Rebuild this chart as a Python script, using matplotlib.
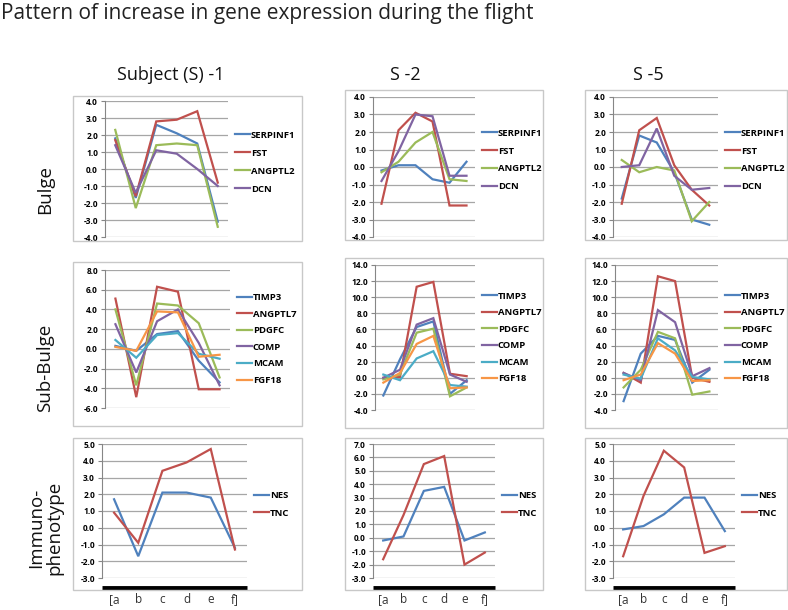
import numpy as np
import matplotlib.pyplot as plt
from matplotlib.patches import Rectangle

plt.rcParams['font.family'] = ['Open Sans', 'DejaVu Sans']

W, H = 788, 610

title = "Pattern of increase in gene expression during the flight"
subjects = ["Subject (S) -1", "S -2", "S -5"]
rows = ["Bulge", "Sub-Bulge", "Immuno-\nphenotype"]
x_labels = ["[a", "b", "c", "d", "e", "f]"]

bulge_genes = ["SERPINF1", "FST", "ANGPTL2", "DCN"]
sub_genes = ["TIMP3", "ANGPTL7", "PDGFC", "COMP", "MCAM", "FGF18"]
immuno_genes = ["NES", "TNC"]

# Bulge
s1_bulge = [
    [1.8, -1.7, 2.6, 2.1, 1.5, -3.1],
    [1.7, -1.6, 2.8, 2.9, 3.4, -0.8],
    [2.3, -2.3, 1.4, 1.5, 1.4, -3.4],
    [1.4, -1.4, 1.1, 0.9, 0.0, -1.0],
]
s2_bulge = [
    [-0.2, 0.1, 0.1, -0.7, -0.9, 0.3],
    [-2.1, 2.1, 3.1, 2.6, -2.2, -2.2],
    [-0.3, 0.3, 1.4, 2.0, -0.7, -0.8],
    [-0.8, 0.9, 3.0, 2.9, -0.5, -0.5],
]
s5_bulge = [
    [-1.8, 1.8, 1.4, -0.3, -3.0, -3.3],
    [-2.1, 2.1, 2.8, 0.1, -1.3, -2.2],
    [0.4, -0.3, 0.0, -0.2, -3.1, -2.0],
    [0.0, 0.1, 2.2, -0.5, -1.3, -1.2],
]

# Sub-Bulge
s1_sub = [
    [0.3, -0.2, 1.5, 1.8, -1.2, -3.4],
    [5.1, -4.9, 6.3, 5.8, -4.1, -4.1],
    [4.0, -3.7, 4.6, 4.4, 2.6, -2.9],
    [2.5, -2.4, 2.8, 4.0, 0.6, -3.7],
    [0.9, -0.9, 1.4, 1.6, -0.5, -1.0],
    [0.2, -0.2, 3.8, 3.7, -0.8, -0.6],
]
s2_sub = [
    [-2.2, 2.3, 6.3, 7.0, -2.0, -0.3],
    [0.0, 0.1, 11.3, 11.9, 0.5, 0.2],
    [-0.2, 0.4, 5.6, 6.1, -2.3, -1.2],
    [0.0, 1.0, 6.6, 7.4, 0.4, -0.5],
    [0.4, -0.3, 2.4, 3.3, -0.9, -1.1],
    [-0.6, 0.6, 4.2, 5.2, -1.3, -1.2],
]
s5_sub = [
    [-2.9, 3.0, 5.2, 4.7, -0.6, 1.0],
    [0.6, -0.6, 12.6, 12.0, 0.0, -0.5],
    [-1.2, 1.0, 5.7, 4.9, -2.1, -1.7],
    [0.6, -0.3, 8.4, 6.9, 0.2, 1.2],
    [0.4, -0.1, 4.9, 3.4, 0.1, -0.2],
    [-0.3, 0.4, 4.3, 3.0, -0.4, -0.3],
]

# Immunophenotype
s1_imm = [
    [1.7, -1.7, 2.1, 2.1, 1.8, -1.2],
    [0.9, -0.9, 3.4, 3.9, 4.7, -1.3],
]
s2_imm = [
    [-0.2, 0.1, 3.5, 3.8, -0.2, 0.4],
    [-1.6, 1.7, 5.5, 6.1, -2.0, -1.1],
]
s5_imm = [
    [-0.1, 0.1, 0.8, 1.8, 1.8, -0.2],
    [-1.7, 1.9, 4.6, 3.6, -1.5, -1.1],
]

colors = ["#4F81BD", "#C0504D", "#9BBB59", "#8064A2", "#4BACC6", "#F79646"]


def rect(x0, y0, x1, y1):
    return [x0 / W, 1 - y1 / H, (x1 - x0) / W, (y1 - y0) / H]


# (data, genes, ylim, step, box, plot area) in pixels
panels = [
    [(s1_bulge, bulge_genes, (-4, 4), 1, (73, 96, 302, 241), (105, 101, 228, 237)),
     (s2_bulge, bulge_genes, (-4, 4), 1, (345, 90, 543, 240), (373, 97, 475, 237)),
     (s5_bulge, bulge_genes, (-4, 4), 1, (585, 90, 787, 240), (613, 97, 718, 237))],
    [(s1_sub, sub_genes, (-6, 8), 2, (73, 262, 302, 426), (105, 270, 230, 408)),
     (s2_sub, sub_genes, (-4, 14), 2, (345, 258, 543, 428), (375, 265, 475, 410)),
     (s5_sub, sub_genes, (-4, 14), 2, (585, 258, 787, 428), (615, 265, 718, 410))],
    [(s1_imm, immuno_genes, (-3, 5), 1, (73, 438, 302, 590), (102, 444, 247, 578)),
     (s2_imm, immuno_genes, (-3, 7), 1, (345, 438, 543, 590), (373, 444, 495, 578)),
     (s5_imm, immuno_genes, (-3, 5), 1, (585, 438, 787, 590), (613, 444, 735, 578))],
]
legend_y = [0.55, 0.5, 0.55]
legend_gap = [0.95, 0.8, 0.95]

fig = plt.figure(figsize=(W / 100, H / 100), dpi=100)

fig.text(1 / W, 1 - 13 / H, title, fontsize=15, va="center", ha="left", color="#222222")

header_x = [171, 405, 648]
for name, hx in zip(subjects, header_x):
    fig.text(hx / W, 1 - 75 / H, name, fontsize=13, ha="center", va="center", color="#111111")

row_y = [190, 368, 528]
for name, ry in zip(rows, row_y):
    fig.text(45 / W, 1 - ry / H, name, fontsize=13.5, rotation=90, ha="center", va="center",
             linespacing=1.0, color="#111111", multialignment="center")

x = np.arange(len(x_labels))

for r, row in enumerate(panels):
    for c, (data, genes, ylim, step, box, area) in enumerate(row):
        b = rect(*box)
        fig.patches.append(Rectangle((b[0], b[1]), b[2], b[3], transform=fig.transFigure,
                                     fill=False, edgecolor="#C8C8C8", lw=1.0))
        ax = fig.add_axes(rect(*area))
        for vals, g, col in zip(data, genes, colors):
            ax.plot(x, vals, color=col, lw=1.6, label=g, solid_joinstyle="miter")
        ax.set_xlim(-0.5, 5.5)
        ax.set_ylim(*ylim)
        ax.set_yticks(np.arange(ylim[0], ylim[1] + step / 2, step))
        ax.yaxis.set_major_formatter(plt.FuncFormatter(lambda v, p: "%.1f" % v))
        ax.grid(axis="y", color="#A6A6A6", lw=0.9)
        ax.set_axisbelow(True)
        for s in ["top", "right", "bottom"]:
            ax.spines[s].set_visible(False)
        ax.spines["left"].set_color("#868686")
        ax.tick_params(axis="y", labelsize=6, length=3, color="#868686", pad=2)
        for t in ax.get_yticklabels():
            t.set_fontweight("bold")
        if r == 2:
            ax.set_xticks(x)
            ax.set_xticklabels(x_labels, fontsize=8.5, color="#333333")
            ax.tick_params(axis="x", length=0, pad=11)
            ax.plot([0, 1], [-0.075, -0.075], transform=ax.transAxes, color="black",
                    lw=3.5, clip_on=False, solid_capstyle="butt")
        else:
            ax.set_xticks([])
        ax.legend(loc="center left", bbox_to_anchor=(1.0, legend_y[r]), frameon=False,
                  prop={"size": 6.8, "weight": "bold"}, handlelength=1.6,
                  handletextpad=0.1, labelspacing=legend_gap[r], borderaxespad=0.3)

fig.savefig("out.png", dpi=100)
